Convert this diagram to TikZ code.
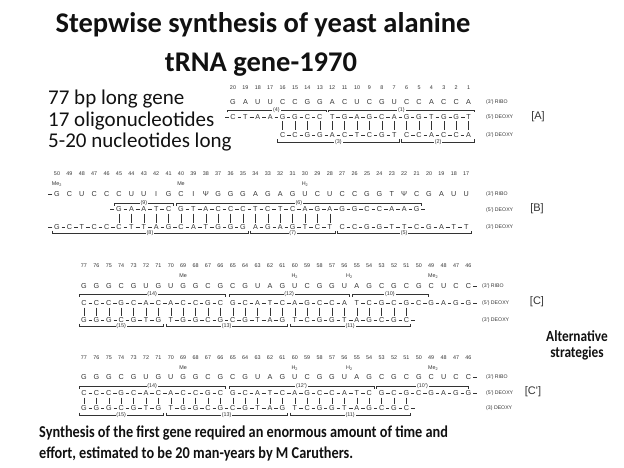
\documentclass[tikz,border=0pt]{standalone}
\usepackage{fontspec}
\setmainfont{Carlito}
\newfontfamily\narrow{Carlito}[FakeStretch=0.86]
\newfontfamily\seqfont{Liberation Sans}
\usetikzlibrary{positioning}
\definecolor{ink}{HTML}{111111}
\definecolor{scan}{HTML}{333333}

% column spacing and column positions of the panels
\newcommand\dx{12.4}
\newcommand\colA[1]{233+(20-#1)*\dx}
\newcommand\colB[1]{57+(50-#1)*\dx}
\newcommand\colC[1]{84+(77-#1)*\dx}

% deoxy strand: bases joined by dashes
\newcommand\strand[4]{%
  \foreach \b [count=\i from 0] in {#4}{%
    \node[base] (#1-\i) at ({#2+\i*\dx},#3) {\b};
    \ifnum\i>0
      \pgfmathtruncatemacro\j{\i-1}
      \draw[bond] (#1-\j) -- (#1-\i);
    \fi
  }}
% ribo strand: bases only
\newcommand\ribo[4]{%
  \foreach \b [count=\i from 0] in {#4}{%
    \node[base] (#1-\i) at ({#2+\i*\dx},#3) {\b};
  }}
% brackets over / under a fragment
\newcommand\topbr[5]{%
  \draw[brk] ({#2},#4+2.5) -- ({#2},#4) -- ({#3},#4) -- ({#3},#4+2.5);
  \node[lbl] (#1) at ({(#2+#3)/2},#4) {#5};}
\newcommand\botbr[5]{%
  \draw[brk] ({#2},#4-2.5) -- ({#2},#4) -- ({#3},#4) -- ({#3},#4-2.5);
  \node[lbl] (#1) at ({(#2+#3)/2},#4) {#5};}

\begin{document}
\begin{tikzpicture}[x=1pt,y=-1pt,
    base/.style={font=\seqfont\fontsize{7.2}{7}\selectfont,text=scan,inner sep=0pt,inner xsep=1.7pt,text height=5.2pt,text depth=0pt},
    num/.style={font=\seqfont\fontsize{5.4}{5}\selectfont,text=scan,inner sep=0pt},
    lbl/.style={num,fill=white,inner xsep=0.8pt},
    tag/.style={font=\seqfont\fontsize{5.2}{5}\selectfont,text=scan,anchor=west,inner sep=0pt},
    panel/.style={font=\seqfont\fontsize{11}{11}\selectfont,text=scan,inner sep=0pt},
    bond/.style={draw=scan,line width=0.5pt},
    brk/.style={draw=scan,line width=0.5pt},
    pair/.style={draw=scan,line width=0.5pt},
    title/.style={font=\bfseries\fontsize{28.5}{28}\selectfont,text=ink,anchor=base,inner sep=0pt},
    fact/.style={font=\fontsize{21}{21}\selectfont,text=ink,anchor=base west,inner sep=0pt},
    note/.style={font=\narrow\bfseries\fontsize{16.6}{17}\selectfont,text=ink,anchor=base west,inner sep=0pt},
    side/.style={font=\narrow\bfseries\fontsize{15.5}{15}\selectfont,text=ink,anchor=base,inner sep=0pt}
  ]
  \useasboundingbox (0,0) rectangle (624,468);

  \node[title] (t1) at (263,33) {Stepwise synthesis of yeast alanine};
  \node[title] (t2) at (261,72) {tRNA gene-1970};

  \node[fact] (f1) at (48,105) {77 bp long gene};
  \node[fact] (f2) at (48,127) {17 oligonucleotides};
  \node[fact] (f3) at (48,148) {5-20 nucleotides long};

  % panel A
  \foreach \p in {20,...,1} \node[num] (nA\p) at ({\colA{\p}},88) {\p};
  \ribo{rA}{\colA{20}}{102}{G,A,U,U,C,C,G,G,A,C,U,C,G,U,C,C,A,C,C,A}
  \topbr{bA4}{\colA{20}-6}{\colA{13}+6}{110}{(4)}
  \topbr{bA1}{\colA{12}-4}{\colA{1}+6}{110}{(1)}
  \strand{sA4}{\colA{20}}{117}{C,T,A,A,G,G,C,C}
  \draw[bond] (sA4-0.west) -- ++(-4,0);
  \strand{sA1}{\colA{12}}{117}{T,G,A,G,C,A,G,G,T,G,G,T}
  \foreach \p in {16,...,1} \draw[pair] ({\colA{\p}},121.5) -- ({\colA{\p}},130.5);
  \strand{sA3}{\colA{16}}{135}{C,C,G,G,A,C,T,C,G,T}
  \strand{sA2}{\colA{6}}{135}{C,C,A,C,C,A}
  \botbr{bA3}{\colA{16}-5}{\colA{7}+5}{142}{(3)}
  \botbr{bA2}{\colA{6}-5}{\colA{1}+6}{142}{(2)}
  \node[tag] (gA1) at (486,102) {(3') RIBO};
  \node[tag] (gA2) at (486,117) {(5') DEOXY};
  \node[tag] (gA3) at (486,135) {(3') DEOXY};
  \node[panel] (pA) at (538,117) {[A]};

  % panel B
  \foreach \p in {50,...,17} \node[num] (nB\p) at ({\colB{\p}},174) {\p};
  \node[num] (mB1) at ({\colB{50}},184) {Me\textsubscript{2}};
  \node[num] (mB2) at ({\colB{40}},184) {Me};
  \node[num] (mB3) at ({\colB{30}},184) {H\textsubscript{2}};
  \ribo{rB}{\colB{50}}{194}{G,C,U,C,C,C,U,U,I,G,C,I,Ψ,G,G,G,A,G,A,G,U,C,U,C,C,G,G,T,Ψ,C,G,A,U,U}
  \draw[bond] (rB-0.west) -- ++(-4,0);
  \topbr{bB9}{\colB{45}-5}{\colB{41}+5}{203}{(9)}
  \topbr{bB6}{\colB{40}-5}{\colB{21}+5}{203}{(6)}
  \strand{sB9}{\colB{45}}{209}{G,A,A,T,C}
  \draw[bond] (sB9-0.west) -- ++(-4,0);
  \strand{sB6}{\colB{40}}{209}{G,T,A,C,C,C,T,C,T,C,A,G,A,G,G,C,C,A,A,G}
  \draw[bond] (sB6-19.east) -- ++(4,0);
  \foreach \p in {45,...,28} \draw[pair] ({\colB{\p}},213.5) -- ({\colB{\p}},222.5);
  \strand{sB8}{\colB{50}}{227}{G,C,T,C,C,C,T,T,A,G,C,A,T,G,G,G}
  \draw[bond] (sB8-0.west) -- ++(-4,0);
  \strand{sB7}{\colB{34}}{227}{A,G,A,G,T,C,T}
  \strand{sB5}{\colB{27}}{227}{C,C,G,G,T,T,C,G,A,T,T}
  \botbr{bB8}{\colB{50}-5}{\colB{35}+5}{233}{(8)}
  \botbr{bB7}{\colB{34}-5}{\colB{28}+5}{233}{(7)}
  \botbr{bB5}{\colB{27}-5}{\colB{17}+5}{233}{(5)}
  \node[tag] (gB1) at (486,194) {(3') RIBO};
  \node[tag] (gB2) at (486,210) {(5') DEOXY};
  \node[tag] (gB3) at (486,227) {(3') DEOXY};
  \node[panel] (pB) at (537,209) {[B]};

  % panel C
  \foreach \p in {77,...,46} \node[num] (nC\p) at ({\colC{\p}},266) {\p};
  \node[num] (mC1) at ({\colC{69}},276) {Me};
  \node[num] (mC2) at ({\colC{60}},276) {H\textsubscript{2}};
  \node[num] (mC3) at ({\colC{56}+5},276) {H\textsubscript{2}};
  \node[num] (mC4) at ({\colC{49}+2},276) {Me\textsubscript{2}};
  \ribo{rC}{\colC{77}}{286}{G,G,G,C,G,U,G,U,G,G,C,G,C,G,U,A,G,U,C,G,G,U,A,G,C,G,C,G,C,U,C,C}
  \draw[bond] (rC-31.east) -- ++(4,0);
  \topbr{bC14}{\colC{77}-5}{\colC{66}+5}{294}{(14)}
  \topbr{bC12}{\colC{65}-4}{\colC{56}+5}{294}{(12)}
  \topbr{bC10}{\colC{55}-5}{428}{294}{(10)}
  \strand{sC14}{\colC{77}}{303}{C,C,C,G,C,A,C,A,C,C,G,C}
  \strand{sC12}{\colC{65}}{303}{G,C,A,T,C,A,G,C,C,A}
  \strand{sC10}{\colC{55}}{303}{T,C,G,C,G,C,G,A,G,G}
  \draw[bond] (sC10-9.east) -- ++(4,0);
  \foreach \p in {77,...,51} \draw[pair] ({\colC{\p}},307.5) -- ({\colC{\p}},315.5);
  \strand{sC15}{\colC{77}}{320}{G,G,G,C,G,T,G}
  \strand{sC13}{\colC{70}}{320}{T,G,G,C,G,C,G,T,A,G}
  \strand{sC11}{\colC{60}}{320}{T,C,G,G,T,A,G,C,G,C}
  \draw[bond] (sC11-9.east) -- ++(4,0);
  \botbr{bC15}{\colC{77}-5}{\colC{71}+5}{326}{(15)}
  \botbr{bC13}{\colC{70}-5}{\colC{61}+5}{326}{(13)}
  \botbr{bC11}{\colC{60}-5}{\colC{51}+4}{326}{(11)}
  \node[tag] (gC1) at (482,286) {(3') RIBO};
  \node[tag] (gC2) at (482,303) {(5') DEOXY};
  \node[tag] (gC3) at (482,320) {(3') DEOXY};
  \node[panel] (pC) at (537,302) {[C]};

  % panel C'
  \foreach \p in {77,...,46} \node[num] (nD\p) at ({\colC{\p}},358) {\p};
  \node[num] (mD1) at ({\colC{69}},368) {Me};
  \node[num] (mD2) at ({\colC{60}},368) {H\textsubscript{2}};
  \node[num] (mD3) at ({\colC{56}+5},368) {H\textsubscript{2}};
  \node[num] (mD4) at ({\colC{49}+2},368) {Me\textsubscript{2}};
  \ribo{rD}{\colC{77}}{377}{G,G,G,C,G,U,G,U,G,G,C,G,C,G,U,A,G,U,C,G,G,U,A,G,C,G,C,G,C,U,C,C}
  \draw[bond] (rD-31.east) -- ++(4,0);
  \topbr{bD14}{\colC{77}-5}{\colC{66}+5}{386}{(14)}
  \topbr{bD12}{\colC{65}-4}{\colC{54}+5}{386}{(12')}
  \topbr{bD10}{\colC{53}-5}{\colC{46}}{386}{(10')}
  \strand{sD14}{\colC{77}}{393}{C,C,C,G,C,A,C,A,C,C,G,C}
  \strand{sD12}{\colC{65}}{393}{G,C,A,T,C,A,G,C,C,A,T,C}
  \strand{sD10}{\colC{53}}{393}{G,C,G,C,G,A,G,G}
  \draw[bond] (sD10-7.east) -- ++(4,0);
  \foreach \p in {77,...,51} \draw[pair] ({\colC{\p}},397.5) -- ({\colC{\p}},403.5);
  \strand{sD15}{\colC{77}}{408}{G,G,G,C,G,T,G}
  \strand{sD13}{\colC{70}}{408}{T,G,G,C,G,C,G,T,A,G}
  \strand{sD11}{\colC{60}}{408}{T,C,G,G,T,A,G,C,G,C}
  \draw[bond] (sD11-9.east) -- ++(4,0);
  \botbr{bD15}{\colC{77}-5}{\colC{71}+5}{415}{(15)}
  \botbr{bD13}{\colC{70}-5}{\colC{61}+5}{415}{(13)}
  \botbr{bD11}{\colC{60}-5}{\colC{51}+4}{415}{(11)}
  \node[tag] (gD1) at (486,377) {(3') RIBO};
  \node[tag] (gD2) at (486,393) {(5') DEOXY};
  \node[tag] (gD3) at (486,408) {(3) DEOXY};
  \node[panel] (pD) at (533,392) {[C']};

  \node[side] (alt1) at (577,341) {Alternative};
  \node[side] (alt2) at (577,357) {strategies};

  \node[note] (n1) at (39,437) {Synthesis of the first gene required an enormous amount of time and};
  \node[note] (n2) at (39,458) {effort, estimated to be 20 man-years by M Caruthers.};
\end{tikzpicture}
\end{document}
